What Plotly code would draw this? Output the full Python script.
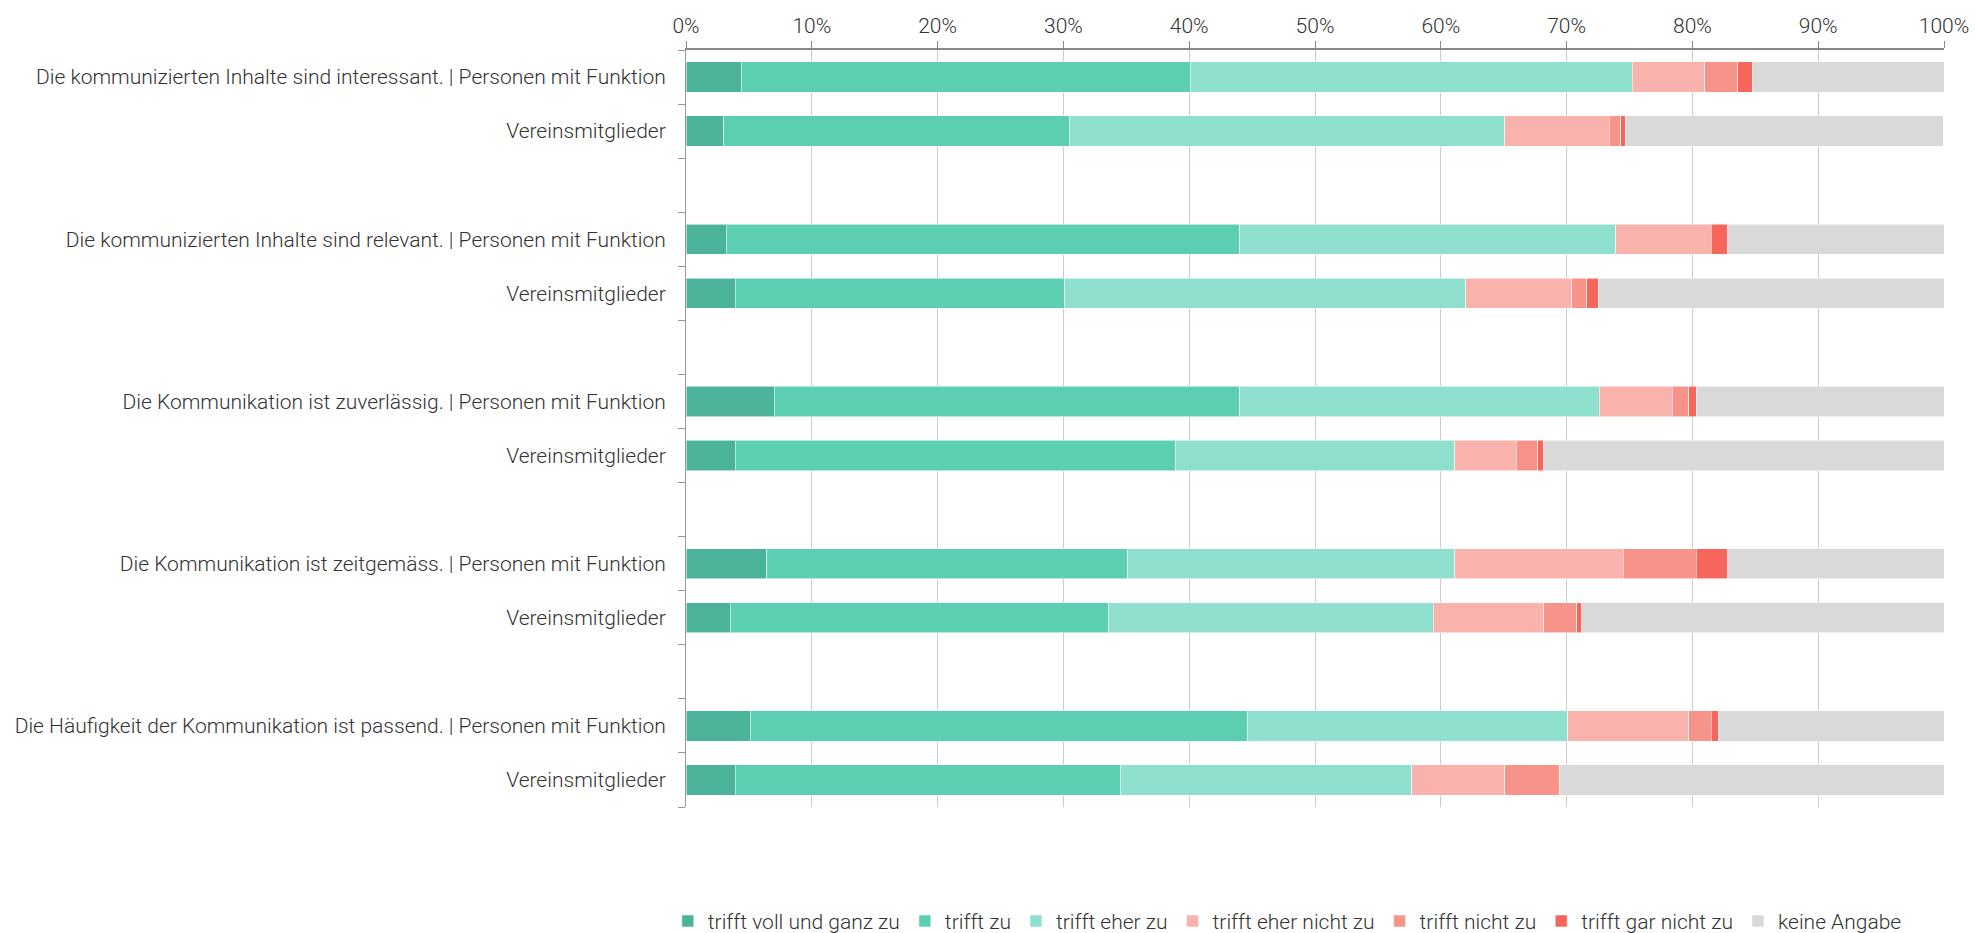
import plotly.graph_objects as go

statements = [
    "Die kommunizierten Inhalte sind interessant.",
    "Die kommunizierten Inhalte sind relevant.",
    "Die Kommunikation ist zuverlässig.",
    "Die Kommunikation ist zeitgemäss.",
    "Die Häufigkeit der Kommunikation ist passend.",
]
groups = ["Personen mit Funktion", "Vereinsmitglieder"]

answers = ["trifft voll und ganz zu", "trifft zu", "trifft eher zu",
           "trifft eher nicht zu", "trifft nicht zu", "trifft gar nicht zu", "keine Angabe"]
colors = ["#4bb39a", "#5ccfb3", "#8edfcd", "#f9b2ac", "#f89389", "#f6665a", "#d9d9d9"]

# values in percent, rows: statement x group (Funktion, Vereinsmitglieder)
voll      = [4.4, 3.0, 3.2, 3.9, 7.0, 3.9, 6.4, 3.5, 5.1, 3.9]
zu        = [35.7, 27.5, 40.8, 26.2, 37.0, 35.0, 28.7, 30.1, 39.5, 30.6]
eher_zu   = [35.1, 34.6, 29.9, 31.9, 28.6, 22.2, 26.0, 25.8, 25.5, 23.2]
eher_nicht= [5.8, 8.3, 7.6, 8.4, 5.8, 4.9, 13.4, 8.8, 9.6, 7.4]
nicht     = [2.6, 0.9, 0.0, 1.2, 1.3, 1.7, 5.8, 2.6, 1.8, 4.3]
gar_nicht = [1.2, 0.35, 1.3, 0.9, 0.6, 0.5, 2.5, 0.4, 0.6, 0.0]
keine     = [15.3, 25.3, 17.2, 27.5, 19.7, 31.8, 17.2, 28.8, 17.9, 30.6]

series = [voll, zu, eher_zu, eher_nicht, nicht, gar_nicht, keine]

# y positions: two rows per statement, one empty slot between statements
ypos, labels = [], []
for g, st in enumerate(statements):
    for s, grp in enumerate(groups):
        ypos.append(g * 3 + s)
        labels.append(f"{st} | {grp}" if s == 0 else grp)

n_slots = len(statements) * 3 - 1

fig = go.Figure()
for name, vals, col in zip(answers, series, colors):
    fig.add_trace(go.Bar(
        x=vals, y=ypos, orientation="h", name=name,
        marker=dict(color=col, line=dict(color="rgba(255,255,255,0.55)", width=1)),
        width=0.56,
    ))

FS = 21
font = "Roboto, Liberation Sans, Arial, sans-serif"
fig.update_layout(
    barmode="stack",
    width=1975, height=933,
    margin=dict(l=686, r=31, t=50, b=126, autoexpand=False),
    plot_bgcolor="white", paper_bgcolor="white",
    font=dict(family=font, size=FS, color="#333333", weight=300),
    xaxis=dict(
        side="top", range=[0, 100], dtick=10, tick0=0, ticksuffix="%",
        showgrid=True, gridcolor="#cccccc", gridwidth=1,
        showline=True, linecolor="#888888", linewidth=2,
        ticks="outside", ticklen=7, tickcolor="#888888", tickwidth=1,
        tickfont=dict(size=FS, color="#333333", family=font, weight=300),
        zeroline=False, fixedrange=True, automargin=False,
    ),
    yaxis=dict(
        range=[n_slots - 0.5, -0.5],
        tickmode="array", tickvals=ypos, ticktext=labels,
        ticks="", showgrid=False, zeroline=False,
        showline=True, linecolor="#999999", linewidth=1,
        ticklabelstandoff=15, automargin=False,
        tickfont=dict(size=FS, color="#333333", family=font, weight=300),
        minor=dict(tickmode="array",
                   tickvals=[i - 0.5 for i in range(n_slots + 1)],
                   ticks="outside", ticklen=7, tickcolor="#999999",
                   tickwidth=1, showgrid=False),
    ),
    legend=dict(
        orientation="h", x=0.478, xanchor="center", y=-0.151, yanchor="middle",
        font=dict(size=FS, color="#333333", family=font, weight=300),
        traceorder="normal",
    ),
    showlegend=True,
)

fig.write_html(
    "out.html",
    config={"displayModeBar": False},
    post_script=(
        "document.body.style.margin='0';"
        "document.documentElement.style.overflow='hidden';"
        "document.body.style.overflow='hidden';"
        "var d=document.getElementById('{plot_id}');"
        "d.style.position='fixed';d.style.top='0';d.style.left='0';"
    ),
)
